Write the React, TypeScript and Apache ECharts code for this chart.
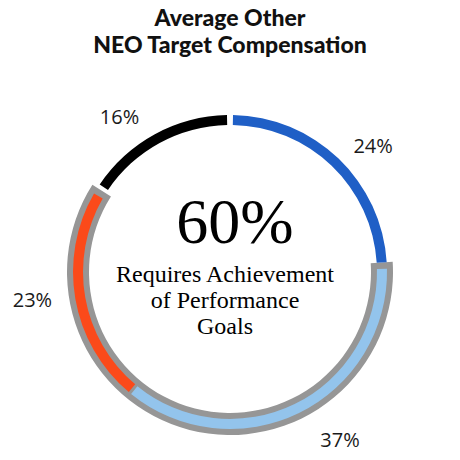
import React, { useEffect, useRef } from "react";
import * as echarts from "echarts";

const titleLines = ["Average Other", "NEO Target Compensation"];
const categories = ["Base Salary", "Performance Cash", "Performance Equity", "Time-Based Equity"];
const values = [24, 37, 23, 16];
const colors = ["#1f5fc6", "#93c4ec", "#fb4a1a", "#000000"];
const performanceFlags = [false, true, true, false];
const labelDistances = [16, 31, 18, 21];
const centerCaption = ["Requires Achievement", "of Performance", "Goals"];

const CX = 230;
const CY = 272;
const THIN = [147, 157];
const BAND = [141, 163];
const GRAY = "#969696";
const TOP_GAP = 2.2;
const CAP = 2.4;
const SEP = 1.1;
const END_GAP = 1.5;

function arc(id: string, t0: number, t1: number, r: number[], color: string, z: number) {
  const span = t1 - t0;
  return {
    id,
    type: "pie",
    center: [CX, CY],
    radius: r,
    startAngle: 90 - t0,
    clockwise: true,
    silent: true,
    z,
    label: { show: false },
    labelLine: { show: false },
    itemStyle: { borderWidth: 0 },
    emphasis: { disabled: true },
    data: [
      { value: span, itemStyle: { color } },
      { value: 360 - span, itemStyle: { color: "rgba(0,0,0,0)" } },
    ],
  };
}

export default function App() {
  const ref = useRef<HTMLDivElement>(null);
  useEffect(() => {
    if (!ref.current) return;
    const chart = echarts.init(ref.current, undefined, { renderer: "svg" });
    const total = values.reduce((a, b) => a + b, 0);
    const deg = values.map((v) => (v / total) * 360);
    const start: number[] = [];
    let acc = 0;
    deg.forEach((d) => {
      start.push(acc);
      acc += d;
    });
    const end = start.map((s, i) => s + deg[i]);
    const perfIdx = performanceFlags.map((f, i) => (f ? i : -1)).filter((i) => i >= 0);
    const bandStart = start[perfIdx[0]];
    const bandEnd = end[perfIdx[perfIdx.length - 1]];
    const perfTotal = perfIdx.reduce((a, i) => a + values[i], 0);

    const series: any[] = [];
    series.push(arc("band", bandStart, bandEnd, BAND, GRAY, 1));
    series.push(arc("s0", start[0] + TOP_GAP / 2, end[0], THIN, colors[0], 2));
    series.push(arc("s1", start[1] + CAP, end[1] - SEP / 2, THIN, colors[1], 2));
    series.push(arc("s2", start[2] + SEP / 2, end[2] - CAP, THIN, colors[2], 2));
    series.push(arc("s3", start[3] + END_GAP, end[3] - TOP_GAP / 2, THIN, colors[3], 2));
    series.push({
      id: "labels",
      type: "pie",
      center: [CX, CY],
      radius: THIN,
      startAngle: 90,
      clockwise: true,
      silent: true,
      z: 0,
      itemStyle: { color: "rgba(0,0,0,0)", borderWidth: 0 },
      label: {
        show: true,
        position: "outside",
        formatter: "{c}%",
        fontFamily: "Open Sans",
        fontSize: 20,
        color: "#1a1a1a",
      },
      labelLine: { show: false, length: 28, length2: 0 },
      avoidLabelOverlap: false,
      data: categories.map((name, i) => ({
        name,
        value: values[i],
        labelLine: { show: false, length: labelDistances[i], length2: 0 },
      })),
    });

    chart.setOption({
      animation: false,
      title: {
        text: titleLines.join("\n"),
        left: "center",
        top: -2,
        textStyle: {
          fontFamily: "Lato",
          fontWeight: 900,
          fontSize: 23,
          lineHeight: 27,
          color: "#111",
        },
      },
      series,
      graphic: [
        {
          type: "text",
          x: 235,
          y: 221,
          style: {
            text: `${perfTotal}%`,
            font: "64px 'Liberation Serif'",
            fill: "#000",
            align: "center",
            verticalAlign: "middle",
          },
        },
        {
          type: "text",
          x: 225,
          y: 261,
          style: {
            text: centerCaption.join("\n"),
            font: "24px 'Liberation Serif'",
            lineHeight: 26,
            fill: "#000",
            align: "center",
            verticalAlign: "top",
          },
        },
      ],
    });
    return () => chart.dispose();
  }, []);
  return (
    <div
      ref={ref}
      style={{ position: "fixed", left: 0, top: 0, width: 460, height: 460, background: "#fff" }}
    />
  );
}
